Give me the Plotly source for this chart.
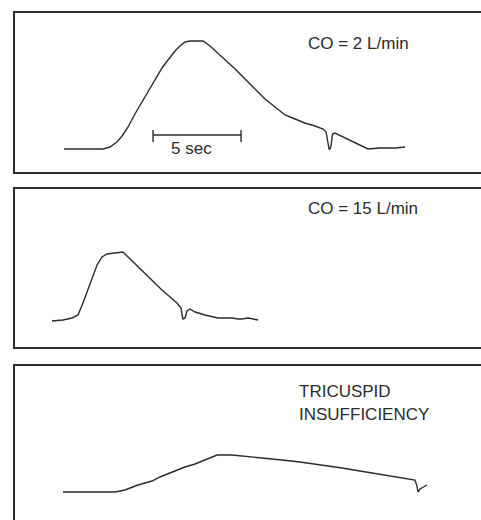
import plotly.graph_objects as go

# Panel 1: CO = 2 L/min  (time in s, signal in arbitrary units)
t1 = [0.00, 0.91, 2.22, 2.61, 3.01, 3.30, 3.64, 4.03, 4.43, 4.77, 5.17, 5.57, 5.91, 6.31,
      6.59, 6.88, 7.16, 7.90, 8.30, 8.86, 9.72, 10.57, 11.42, 11.99, 12.56, 13.13, 13.69,
      14.26, 14.72, 14.89, 14.94, 15.00, 15.06, 15.11, 15.17, 15.23, 15.25, 15.40, 15.97,
      16.53, 17.27, 17.95, 18.81, 19.38]
v1 = [0.0, 0.0, 0.0, 0.2, 0.7, 1.3, 2.2, 3.5, 4.7, 5.8, 6.9, 8.1, 8.9, 9.8,
      10.3, 10.7, 10.8, 10.8, 10.3, 9.4, 8.0, 6.5, 5.0, 4.2, 3.4, 3.0, 2.6,
      2.3, 2.0, 1.7, 1.1, 0.3, 0.0, 0.0, 0.3, 1.1, 1.5, 1.6, 1.1,
      0.6, 0.0, 0.1, 0.1, 0.2]

# Panel 2: CO = 15 L/min
t2 = [0.00, 0.63, 1.14, 1.48, 1.76, 2.16, 2.56, 2.84, 3.13, 3.58, 4.03, 4.32, 5.28, 6.25,
      7.10, 7.33, 7.39, 7.44, 7.56, 7.61, 7.67, 7.84, 8.13, 8.69, 9.43, 9.83, 10.23,
      10.57, 10.80, 11.14, 11.42, 11.71]
v2 = [0.0, 0.1, 0.3, 0.6, 1.8, 3.8, 5.6, 6.4, 6.7, 6.8, 6.9, 6.4, 4.8, 3.1,
      1.8, 1.3, 0.6, 0.2, 0.3, 0.7, 1.0, 1.2, 0.9, 0.6, 0.3, 0.3, 0.3,
      0.2, 0.2, 0.3, 0.2, 0.1]

# Panel 3: tricuspid insufficiency
t3 = [0.00, 0.97, 2.10, 2.95, 3.52, 3.92, 4.26, 4.66, 5.06, 5.51, 6.19, 6.93, 7.50, 8.07,
      8.75, 9.60, 10.91, 12.44, 13.47, 14.32, 15.85, 17.56, 19.03, 20.00, 20.11, 20.17,
      20.28, 20.40, 20.68]
v3 = [0.0, 0.0, 0.0, 0.0, 0.2, 0.5, 0.7, 0.9, 1.1, 1.5, 2.0, 2.5, 2.8, 3.2,
      3.7, 3.7, 3.5, 3.2, 3.0, 2.8, 2.4, 1.9, 1.5, 1.2, 0.6, 0.0,
      0.3, 0.4, 0.7]

panel_labels = ["CO = 2 L/min", "CO = 15 L/min", "TRICUSPID", "INSUFFICIENCY"]
scale_start = 5.06
scale_len = 5
scale_label = "5 sec"

INK = "#2b2b2b"
FONT = "Liberation Sans, Arial, sans-serif"

fig = go.Figure()
fig.add_trace(go.Scatter(x=t1, y=v1, mode="lines", line=dict(color=INK, width=1.4),
                         xaxis="x", yaxis="y", hoverinfo="skip"))
fig.add_trace(go.Scatter(x=t2, y=v2, mode="lines", line=dict(color=INK, width=1.4),
                         xaxis="x2", yaxis="y2", hoverinfo="skip"))
fig.add_trace(go.Scatter(x=t3, y=v3, mode="lines", line=dict(color=INK, width=1.4),
                         xaxis="x3", yaxis="y3", hoverinfo="skip"))

# scale bar (5 s) in panel 1
sx = [scale_start, scale_start, None, scale_start, scale_start + scale_len, None,
      scale_start + scale_len, scale_start + scale_len]
sy = [1.9, 0.7, None, 1.4, 1.4, None, 1.9, 0.7]
fig.add_trace(go.Scatter(x=sx, y=sy, mode="lines", line=dict(color=INK, width=1.4),
                         xaxis="x", yaxis="y", hoverinfo="skip", connectgaps=False))

W, H = 481, 520
left = 15 / W

def xax(rng, mirror=True, side="bottom"):
    return dict(domain=[left, 1], range=rng, showline=True, linecolor=INK, linewidth=1.6,
                mirror=mirror, side=side, showgrid=False, zeroline=False,
                showticklabels=False, ticks="", fixedrange=True)

def yax(rng, dom, anchor):
    return dict(domain=dom, range=rng, showline=True, linecolor=INK, linewidth=1.6,
                mirror=False, showgrid=False, zeroline=False, showticklabels=False,
                ticks="", anchor=anchor, fixedrange=True)

fig.update_layout(
    width=W, height=H, margin=dict(l=0, r=0, t=0, b=0),
    paper_bgcolor="white", plot_bgcolor="white", showlegend=False,
    xaxis=xax([-2.784, 23.693]),
    yaxis=yax([-2.3, 13.6], [(H - 172) / H, (H - 13) / H], "x"),
    xaxis2=dict(xax([-2.102, 24.375]), anchor="y2"),
    yaxis2=yax([-2.6, 13.2], [(H - 347) / H, (H - 189) / H], "x2"),
    xaxis3=dict(xax([-2.727, 23.75], mirror=False, side="top"), anchor="y3"),
    yaxis3=yax([-2.8, 12.6], [0, (H - 366) / H], "x3"),
    font=dict(family=FONT, color=INK),
)

ann_font = dict(family=FONT, size=17, color=INK)
fig.add_annotation(x=13.75, y=10.6, xref="x", yref="y", text=panel_labels[0],
                   showarrow=False, xanchor="left", yanchor="middle", font=ann_font)
fig.add_annotation(x=14.43, y=11.3, xref="x2", yref="y2", text=panel_labels[1],
                   showarrow=False, xanchor="left", yanchor="middle", font=ann_font)
fig.add_annotation(x=13.30, y=10.0, xref="x3", yref="y3", text=panel_labels[2],
                   showarrow=False, xanchor="left", yanchor="middle", font=ann_font)
fig.add_annotation(x=13.30, y=7.7, xref="x3", yref="y3", text=panel_labels[3],
                   showarrow=False, xanchor="left", yanchor="middle", font=ann_font)
fig.add_annotation(x=7.27, y=0.1, xref="x", yref="y",
                   text=scale_label, showarrow=False, xanchor="center",
                   yanchor="middle", font=ann_font)

fig.write_html("out.html", config={"displayModeBar": False})
